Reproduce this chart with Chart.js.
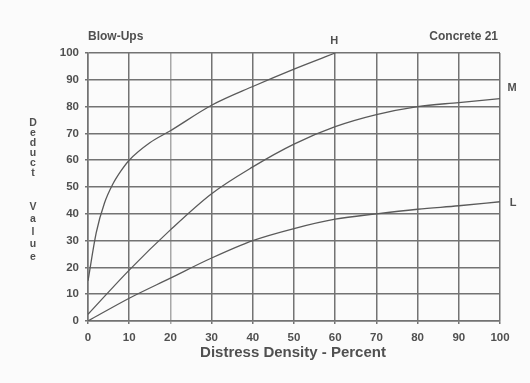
<!DOCTYPE html>
<html>
<head>
<meta charset="utf-8">
<script src="https://cdn.jsdelivr.net/npm/chart.js@4/dist/chart.umd.min.js"></script>
<style>
  html, body { margin: 0; padding: 0; background: #fbfbfb; }
  #wrap { width: 530px; height: 383px; }
</style>
</head>
<body>
<div id="wrap"><canvas id="c" width="530" height="383"></canvas></div>
<script>
// Deduct value curves for concrete blow-ups (low / medium / high severity)
const densityH = [0, 2, 4, 6, 8, 10, 15, 20, 30, 40, 50, 60];
const deductH  = [15, 33, 44, 51, 56, 60, 66.5, 71, 80.5, 87.5, 94, 100];

const densityM = [0, 10, 20, 30, 40, 50, 60, 70, 80, 90, 100];
const deductM  = [2.5, 19, 34, 47.5, 57.5, 66, 72.5, 77, 80, 81.5, 83];

const densityL = [0, 10, 20, 30, 40, 50, 60, 70, 80, 90, 100];
const deductL  = [0, 8.5, 16, 23.5, 30, 34.5, 38, 40, 41.7, 43, 44.5];

const severityLabels = ['H', 'M', 'L'];
const xTicks = [0, 10, 20, 30, 40, 50, 60, 70, 80, 90, 100];
const yTicks = [0, 10, 20, 30, 40, 50, 60, 70, 80, 90, 100];

const INK = '#505050';
const GRID = '#737373';
const FONT = '"Liberation Sans", Arial, sans-serif';

function pts(xs, ys) { return xs.map((x, i) => ({ x: x, y: ys[i] })); }

function curve(label, xs, ys) {
  return {
    label: label,
    data: pts(xs, ys),
    borderColor: '#5a5a5a',
    borderWidth: 1.3,
    pointRadius: 0,
    fill: false,
    cubicInterpolationMode: 'monotone'
  };
}

const textPlugin = {
  id: 'annotations',
  afterDraw(chart) {
    const ctx = chart.ctx;
    const xs = chart.scales.x, ys = chart.scales.y;
    ctx.save();
    ctx.fillStyle = INK;
    ctx.textBaseline = 'middle';

    // header texts
    ctx.font = 'bold 12px ' + FONT;
    ctx.textAlign = 'left';
    ctx.fillText('Blow-Ups', 88, 37);
    ctx.textAlign = 'right';
    ctx.fillText('Concrete 21', 498, 37);

    // severity labels next to their curves
    ctx.font = 'bold 11px ' + FONT;
    ctx.textAlign = 'center';
    ctx.fillText(severityLabels[0], xs.getPixelForValue(densityH[densityH.length - 1]) - 1, ys.getPixelForValue(100) - 12);
    ctx.fillText(severityLabels[1], xs.getPixelForValue(100) + 12, ys.getPixelForValue(deductM[deductM.length - 1]) - 11);
    ctx.fillText(severityLabels[2], xs.getPixelForValue(100) + 13, ys.getPixelForValue(deductL[deductL.length - 1]) + 1);

    // vertical stacked y-axis title
    ctx.font = 'bold 10.5px ' + FONT;
    const word1 = 'Deduct', word2 = 'Value';
    for (let i = 0; i < word1.length; i++) ctx.fillText(word1[i], 33, 123 + i * 10);
    for (let i = 0; i < word2.length; i++) ctx.fillText(word2[i], 33, 207 + i * 12.5);

    // x-axis title
    ctx.font = 'bold 15px ' + FONT;
    ctx.fillText('Distress Density - Percent', 293, 353);
    ctx.restore();
  }
};

new Chart(document.getElementById('c'), {
  type: 'line',
  data: {
    datasets: [
      curve('H', densityH, deductH),
      curve('M', densityM, deductM),
      curve('L', densityL, deductL)
    ]
  },
  options: {
    responsive: false,
    animation: false,
    layout: { padding: { top: 53, right: 30, left: 0, bottom: 0 } },
    plugins: { legend: { display: false }, tooltip: { enabled: false } },
    scales: {
      x: {
        type: 'linear',
        min: 0, max: 100,
        afterBuildTicks: (s) => { s.ticks = xTicks.map(v => ({ value: v })); },
        afterFit: (s) => { s.height = 62; },
        ticks: { color: INK, font: { family: FONT, size: 11.5, weight: 'bold' }, padding: 7 },
        grid: {
          color: (c) => (c.tick && c.tick.value === 20) ? '#a8a8a8' : GRID,
          lineWidth: 1.5,
          tickLength: 3
        },
        border: { color: GRID, width: 1.5 }
      },
      y: {
        min: 0, max: 100,
        afterBuildTicks: (s) => { s.ticks = yTicks.map(v => ({ value: v })); },
        afterFit: (s) => { s.width = 88; },
        ticks: { color: INK, font: { family: FONT, size: 11.5, weight: 'bold' }, padding: 6 },
        grid: { color: GRID, lineWidth: 1.5, tickLength: 3 },
        border: { color: GRID, width: 1.5 }
      }
    }
  },
  plugins: [textPlugin]
});
</script>
</body>
</html>
